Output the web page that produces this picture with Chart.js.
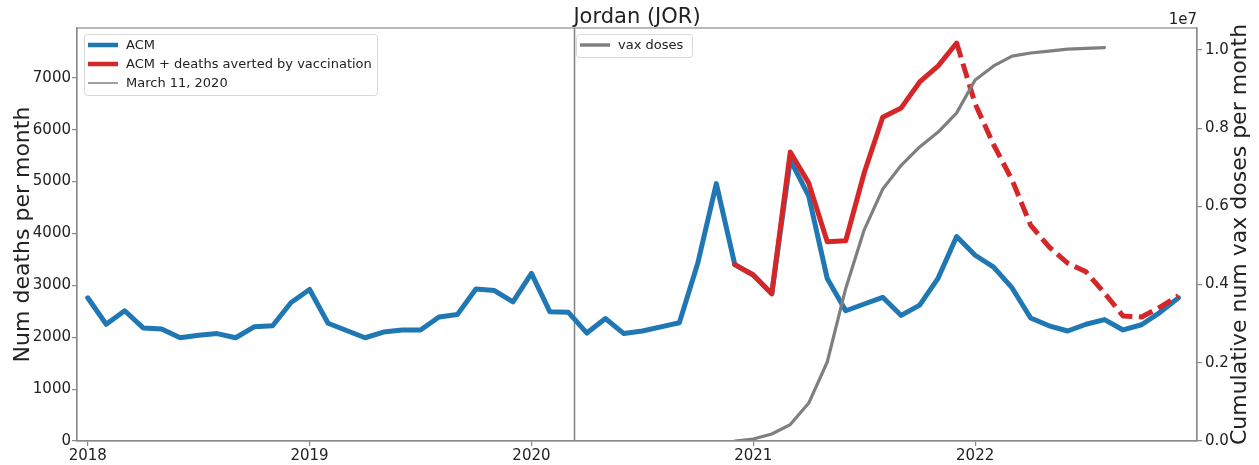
<!DOCTYPE html>
<html>
<head>
<meta charset="utf-8">
<script src="https://cdn.jsdelivr.net/npm/chart.js@4.4.1/dist/chart.umd.min.js"></script>
<style>
    html, body { margin: 0; padding: 0; background: #fff; }
    #wrap { width: 1259px; height: 465px; }
</style>
</head>
<body>
<div id="wrap"><canvas id="chart" width="1259" height="465"></canvas></div>
<script>
// --- Data (x = months since Jan 2018) ---
const YEAR_TICKS = [0, 12, 24, 36, 48];
const YEAR_LABELS = ['2018', '2019', '2020', '2021', '2022'];
const DEATH_TICKS = [0, 1000, 2000, 3000, 4000, 5000, 6000, 7000];
const VAX_TICKS = [0, 2000000, 4000000, 6000000, 8000000, 10000000];
const VAX_TICK_LABELS = ['0.0', '0.2', '0.4', '0.6', '0.8', '1.0'];
const MARCH_11_2020 = 26.33;

// All-cause mortality, Jan 2018 .. Dec 2022
const ACM = [
    2760, 2250, 2510, 2180, 2160, 1990, 2040, 2070, 1990, 2200, 2220, 2670,
    2920, 2270, 2130, 1990, 2100, 2140, 2140, 2390, 2440, 2930, 2900, 2680,
    3230, 2490, 2480, 2080, 2360, 2070, 2120, 2200, 2280, 3430, 4960, 3400,
    3200, 2840, 5420, 4720, 3130, 2510, 2640, 2770, 2420, 2620, 3140, 3940,
    3580, 3350, 2950, 2370, 2220, 2120, 2250, 2340, 2140, 2240, 2480, 2760
];

// ACM + deaths averted, Dec 2020 .. Dec 2022 (dashed from Dec 2021)
const AVERTED_START = 35;
const AVERTED_DASH_FROM = 47;
const ACM_PLUS_AVERTED = [
    3400, 3200, 2840, 5570, 4970, 3840, 3860, 5170, 6240, 6420, 6920, 7230,
    7670, 6500, 5710, 5030, 4160, 3740, 3430, 3260, 2850, 2410, 2390, 2580, 2800
];

// Cumulative vaccine doses, Dec 2020 .. Aug 2022
const VAX_START = 35;
const VAX_DOSES = [
    0, 50000, 180000, 420000, 970000, 2020000, 3900000, 5400000, 6440000,
    7050000, 7520000, 7900000, 8390000, 9230000, 9590000, 9840000, 9920000,
    9970000, 10020000, 10040000, 10060000
];

const toPoints = (arr, start) => arr.map((v, i) => ({ x: start + i, y: v }));

const FONT = 'DejaVu Sans';
const TEXT_COLOR = '#222';
const SPINE_COLOR = '#8a8a8a';

// --- Extra drawing: spines, March line, titles, legends ---
const decorPlugin = {
    id: 'decor',
    beforeDatasetsDraw(chart) {
        const { ctx, chartArea: a, scales } = chart;
        const x = scales.x.getPixelForValue(MARCH_11_2020);
        ctx.save();
        ctx.strokeStyle = '#808080';
        ctx.lineWidth = 1.5;
        ctx.beginPath();
        ctx.moveTo(x, a.top);
        ctx.lineTo(x, a.bottom);
        ctx.stroke();
        ctx.restore();
    },
    afterDraw(chart) {
        const { ctx, chartArea: a } = chart;
        ctx.save();

        // box spines
        ctx.strokeStyle = SPINE_COLOR;
        ctx.lineWidth = 1.2;
        ctx.strokeRect(a.left, a.top, a.right - a.left, a.bottom - a.top);

        // title
        ctx.fillStyle = TEXT_COLOR;
        ctx.font = `21px "${FONT}"`;
        ctx.textAlign = 'center';
        ctx.textBaseline = 'alphabetic';
        ctx.fillText('Jordan (JOR)', (a.left + a.right) / 2, 23);

        // offset text of right axis
        ctx.font = `15px "${FONT}"`;
        ctx.textAlign = 'right';
        ctx.fillText('1e7', a.right, 24);

        // axis labels
        const midY = (a.top + a.bottom) / 2;
        ctx.font = `22px "${FONT}"`;
        ctx.textAlign = 'center';
        ctx.textBaseline = 'middle';
        ctx.save();
        ctx.translate(23, midY);
        ctx.rotate(-Math.PI / 2);
        ctx.fillText('Num deaths per month', 0, 0);
        ctx.restore();
        ctx.save();
        ctx.translate(1240, midY);
        ctx.rotate(-Math.PI / 2);
        ctx.fillText('Cumulative num vax doses per month', 0, 0);
        ctx.restore();

        // legends
        const drawLegend = (x0, y0, w, items) => {
            const rowH = 19;
            const h = items.length * rowH + 4;
            ctx.fillStyle = 'rgba(255,255,255,0.85)';
            ctx.strokeStyle = '#d8d8d8';
            ctx.lineWidth = 1;
            ctx.beginPath();
            ctx.roundRect(x0 + 0.5, y0 + 0.5, w, h, 3);
            ctx.fill();
            ctx.stroke();
            items.forEach((it, i) => {
                const cy = y0 + 11 + i * rowH;
                ctx.strokeStyle = it.color;
                ctx.lineWidth = it.width;
                ctx.beginPath();
                ctx.moveTo(x0 + 4, cy);
                ctx.lineTo(x0 + 34, cy);
                ctx.stroke();
                ctx.fillStyle = TEXT_COLOR;
                ctx.font = `13px "${FONT}"`;
                ctx.textAlign = 'left';
                ctx.textBaseline = 'middle';
                ctx.fillText(it.label, x0 + 42, cy + 1);
            });
        };
        const ds = chart.data.datasets;
        drawLegend(a.left + 7, a.top + 6, 293, [
            { label: ds[0].label, color: ds[0].borderColor, width: 4.5 },
            { label: ds[1].label, color: ds[1].borderColor, width: 4.5 },
            { label: 'March 11, 2020', color: '#808080', width: 1.5 }
        ]);
        drawLegend(a.left + 499, a.top + 6, 116, [
            { label: ds[2].label, color: ds[2].borderColor, width: 3.5 }
        ]);
        ctx.restore();
    }
};

const tickFont = { family: FONT, size: 15 };
const axisGrid = { drawOnChartArea: false, tickLength: 5, color: SPINE_COLOR, lineWidth: 1.2 };
const axisBorder = { color: SPINE_COLOR, width: 1.2 };

new Chart(document.getElementById('chart'), {
    type: 'line',
    data: {
        datasets: [
            {
                label: 'ACM',
                data: toPoints(ACM, 0),
                borderColor: '#1f77b4',
                borderWidth: 5,
                yAxisID: 'y',
                order: 2
            },
            {
                label: 'ACM + deaths averted by vaccination',
                data: toPoints(ACM_PLUS_AVERTED, AVERTED_START),
                borderColor: '#d62728',
                borderWidth: 5,
                yAxisID: 'y',
                order: 1,
                segment: {
                    borderDash: c => c.p0.parsed.x >= AVERTED_DASH_FROM ? [15, 6.5] : undefined,
                    borderCapStyle: c => c.p0.parsed.x >= AVERTED_DASH_FROM ? 'butt' : 'round'
                }
            },
            {
                label: 'vax doses',
                data: toPoints(VAX_DOSES, VAX_START),
                borderColor: '#7f7f7f',
                borderWidth: 3.2,
                yAxisID: 'y1',
                order: 0
            }
        ]
    },
    options: {
        responsive: false,
        animation: false,
        devicePixelRatio: 1,
        layout: { padding: { top: 28, left: 0, right: 0, bottom: 0 } },
        elements: {
            point: { radius: 0, hoverRadius: 0 },
            line: { tension: 0, borderJoinStyle: 'round', borderCapStyle: 'round' }
        },
        plugins: { legend: { display: false }, tooltip: { enabled: false }, title: { display: false } },
        scales: {
            x: {
                type: 'linear',
                min: -0.58,
                max: 60,
                afterBuildTicks: s => { s.ticks = YEAR_TICKS.map(v => ({ value: v })); },
                afterFit: s => { s.height = 24; },
                ticks: {
                    font: tickFont,
                    color: TEXT_COLOR,
                    padding: 1,
                    maxRotation: 0,
                    callback: v => YEAR_LABELS[YEAR_TICKS.indexOf(v)]
                },
                grid: axisGrid,
                border: axisBorder
            },
            y: {
                position: 'left',
                min: 0,
                max: 7960,
                afterBuildTicks: s => { s.ticks = DEATH_TICKS.map(v => ({ value: v })); },
                afterFit: s => { s.width = 77; },
                ticks: { font: tickFont, color: TEXT_COLOR, padding: 1, callback: v => String(v) },
                grid: axisGrid,
                border: axisBorder
            },
            y1: {
                position: 'right',
                min: 0,
                max: 10560000,
                afterBuildTicks: s => { s.ticks = VAX_TICKS.map(v => ({ value: v })); },
                afterFit: s => { s.width = 62; },
                ticks: {
                    font: tickFont,
                    color: TEXT_COLOR,
                    padding: 3,
                    callback: v => VAX_TICK_LABELS[VAX_TICKS.indexOf(v)]
                },
                grid: axisGrid,
                border: axisBorder
            }
        }
    },
    plugins: [decorPlugin]
});
</script>
</body>
</html>
